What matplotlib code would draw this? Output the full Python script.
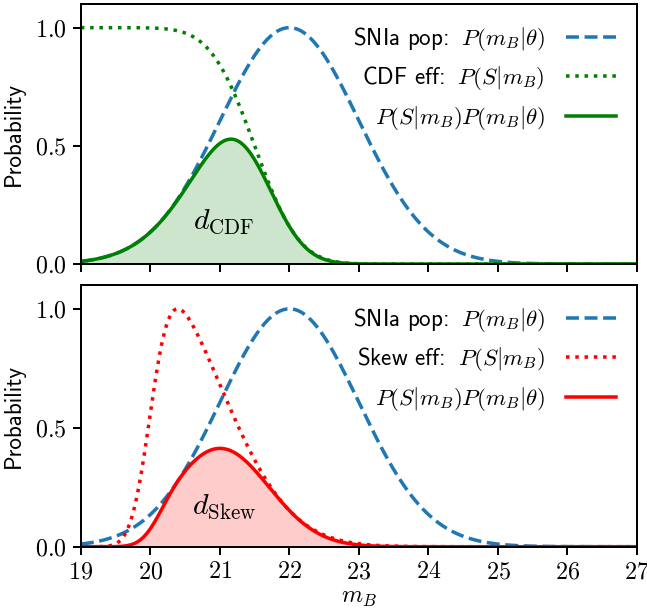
import math
import numpy as np
import matplotlib
matplotlib.use("Agg")
import matplotlib.pyplot as plt
from matplotlib.ticker import FuncFormatter

plt.rcParams["font.family"] = "cmss10"
plt.rcParams["mathtext.fontset"] = "cm"
plt.rcParams["axes.unicode_minus"] = False
plt.rcParams["axes.formatter.use_mathtext"] = True

# SNIa population: gaussian in apparent magnitude
pop_mean = 22.0
pop_sigma = 1.0

# CDF selection efficiency (survival function of a normal)
cdf_mean = 21.5
cdf_sigma = 0.5

# Skew-normal selection efficiency
skew_loc = 20.0
skew_scale = 1.0
skew_alpha = 4.5

x_ticks = [19, 20, 21, 22, 23, 24, 25, 26, 27]
y_ticks = [0.0, 0.5, 1.0]

m = np.linspace(19, 27, 1200)
erf = np.vectorize(math.erf)


def norm_cdf(z):
    return 0.5 * (1 + erf(z / np.sqrt(2)))


pop = np.exp(-0.5 * ((m - pop_mean) / pop_sigma) ** 2)
eff_cdf = 1 - norm_cdf((m - cdf_mean) / cdf_sigma)
z = (m - skew_loc) / skew_scale
eff_skew = np.exp(-0.5 * z ** 2) * norm_cdf(skew_alpha * z)
eff_skew = eff_skew / eff_skew.max()

dpi = 144
fig = plt.figure(figsize=(647 / dpi, 614 / dpi), dpi=dpi)
ax1 = fig.add_axes([0.125, 0.570, 0.8595, 0.4235])
ax2 = fig.add_axes([0.125, 0.1096, 0.8595, 0.4262])

lw = 1.75
panels = [
    (ax1, eff_cdf, "green", r"CDF eff: $\;P(S|m_B)$", r"$d_{\rm CDF}$", 0.18),
    (ax2, eff_skew, "red", r"Skew eff: $\;P(S|m_B)$", r"$d_{\rm Skew}$", 0.168),
]
for ax, eff, col, eff_label, dlabel, dy in panels:
    prod = eff * pop
    ax.plot(m, pop, ls="--", color="#1f77b4", lw=lw, label=r"SNIa pop: $\;P(m_B|\theta)$")
    ax.plot(m, eff, ls=":", color=col, lw=lw, label=eff_label)
    ax.plot(m, prod, ls="-", color=col, lw=lw, label=r"$P(S|m_B)P(m_B|\theta)$")
    ax.fill_between(m, 0, prod, color=col, alpha=0.2, lw=0)
    ax.text(21.06, dy, dlabel, fontsize=15, ha="center", va="center")
    ax.set_xlim(19, 27)
    ax.set_ylim(0, 1.1)
    ax.set_xticks(x_ticks)
    ax.set_yticks(y_ticks)
    ax.yaxis.set_major_formatter(FuncFormatter(lambda v, p: f"${v:.1f}$"))
    ax.xaxis.set_major_formatter(FuncFormatter(lambda v, p: f"${v:g}$"))
    ax.tick_params(length=3.8, width=1.0, labelsize=12)
    for s in ax.spines.values():
        s.set_linewidth(1.0)
    ax.set_ylabel("Probability", fontsize=11.5, labelpad=5)
    ax.legend(loc="upper right", frameon=False, markerfirst=False,
              fontsize=11.5, handlelength=2.2, handletextpad=0.9)

ax1.tick_params(labelbottom=False)
ax2.set_xlabel("$m_B$", fontsize=12, labelpad=2)

fig.savefig("out.png", dpi=dpi)
